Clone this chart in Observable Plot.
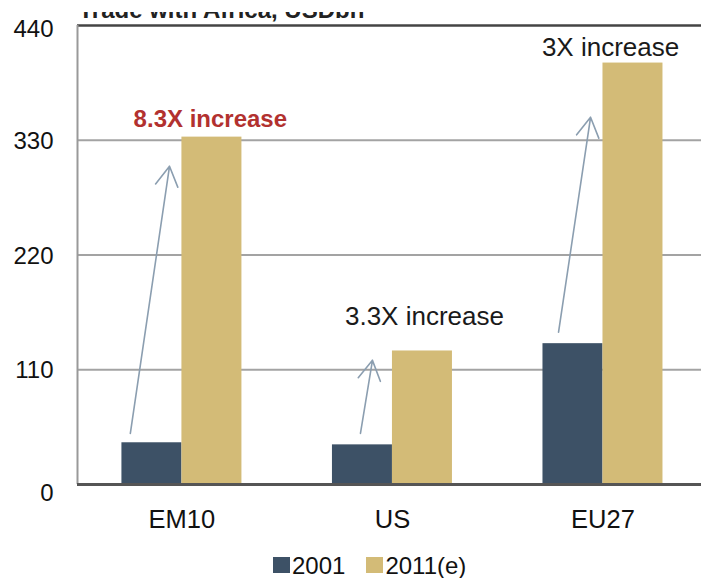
<!DOCTYPE html>
<html><head><meta charset="utf-8">
<script src="https://cdn.jsdelivr.net/npm/d3@7"></script>
<script src="https://cdn.jsdelivr.net/npm/@observablehq/plot@0.6"></script>
<style>
body{margin:0;background:#fff;font-family:"Liberation Sans",Arial,sans-serif;}
#wrap{padding-top:12px;width:701px;}
#wrap svg{overflow:hidden !important;display:block}
.legend{display:flex;align-items:flex-start;padding-left:273px;margin-top:6px;font-size:24px;line-height:24px;color:#111;}
.legend .sw{display:inline-block;width:17px;height:16px;margin-top:3px;}
.legend .lab{margin-left:2px;}
.legend .item{display:flex;align-items:flex-start;margin-right:21px;}
</style></head><body><div id="wrap"></div><script>
const title = "Trade with Africa, USDbn";
const categories = ["EM10","US","EU27"];
const years = ["2001","2011(e)"];
const values2001 = [40,38,135];
const values2011 = [333,128,404];
const yTicks = [0,110,220,330,440];
// annotations, x as offset from the category centre (in category steps)
const noteText = ["8.3X increase","3.3X increase","3X increase"];
const noteDX = [0.135,0.152,0.036];
const noteY = [350,161,419];
const arrowFromDX = [-0.245,-0.152,-0.211];
const arrowFromY = [49,49,146];
const arrowToDX = [-0.059,-0.095,-0.059];
const arrowToY = [305,119,352];
const colors = ["#3d5166","#d3bb77"];
const barW = 0.285;
const xDomain = [-0.496, 2.468];

const bars = categories.flatMap((c,i)=>years.map((y,j)=>({
  cat:c, year:y, x1:i - barW + j*barW, x2:i + j*barW, value: j===0 ? values2001[i] : values2011[i]})));
const notes = categories.map((c,i)=>({text:noteText[i], x:i+noteDX[i], y:noteY[i], highlight:i===0}));
const arrows = categories.map((c,i)=>({x1:i+arrowFromDX[i], y1:arrowFromY[i], x2:i+arrowToDX[i], y2:arrowToY[i]}));

const tickStyle = {tickSize:0, tickPadding:24, fontSize:24, label:null, color:"#111"};
const plot = Plot.plot({
  width:701, height:536, marginTop:13, marginBottom:64, marginLeft:77, marginRight:0,
  style:{fontFamily:"Liberation Sans, Arial, sans-serif", background:"#fff", overflow:"hidden"},
  x:{domain:xDomain},
  y:{domain:[0,440]},
  color:{domain:years, range:colors},
  marks:[
    Plot.ruleY(yTicks.filter(t=>t>0 && t<440), {stroke:"#a3a3a3", strokeWidth:2}),
    Plot.ruleY([440], {stroke:"#444", strokeWidth:2.5}),
    Plot.ruleX([xDomain[0]], {stroke:"#999", strokeWidth:2}),
    Plot.axisY({ticks:yTicks.filter(t=>t>0 && t<440), dy:1, ...tickStyle}),
    Plot.axisY({ticks:[440], dy:4, ...tickStyle}),
    Plot.axisY({ticks:[0], dy:9, ...tickStyle}),
    Plot.text([title], {frameAnchor:"top-left", dx:1, dy:-8, lineAnchor:"bottom", textAnchor:"start", fontSize:24, fontWeight:"bold", fill:"#222"}),
    Plot.rectY(bars, {x1:"x1", x2:"x2", y:"value", fill:"year"}),
    Plot.ruleY([0], {stroke:"#555", strokeWidth:3}),
    Plot.arrow(arrows, {x1:"x1", y1:"y1", x2:"x2", y2:"y2", stroke:"#8b9eb0", strokeWidth:1.6, headLength:21, headAngle:60}),
    Plot.text(notes.filter(d=>d.highlight), {x:"x", y:"y", text:"text", fontSize:24, fill:"#b2312f", fontWeight:"bold"}),
    Plot.text(notes.filter(d=>!d.highlight), {x:"x", y:"y", text:"text", fontSize:26, fill:"#1a1a1a"}),
    Plot.axisX({ticks:d3.range(categories.length), tickFormat:i=>categories[i], anchor:"bottom", tickSize:0, tickPadding:25, fontSize:25.5, label:null, color:"#111"})
  ]
});
const wrap = document.getElementById("wrap");
wrap.appendChild(plot);
const legend = document.createElement("div");
legend.className = "legend";
years.forEach((y,i)=>{
  const item = document.createElement("span"); item.className="item";
  const sw = document.createElement("span"); sw.className="sw"; sw.style.background = colors[i];
  const lab = document.createElement("span"); lab.className="lab"; lab.textContent = y;
  item.appendChild(sw); item.appendChild(lab); legend.appendChild(item);
});
wrap.appendChild(legend);
</script></body></html>
